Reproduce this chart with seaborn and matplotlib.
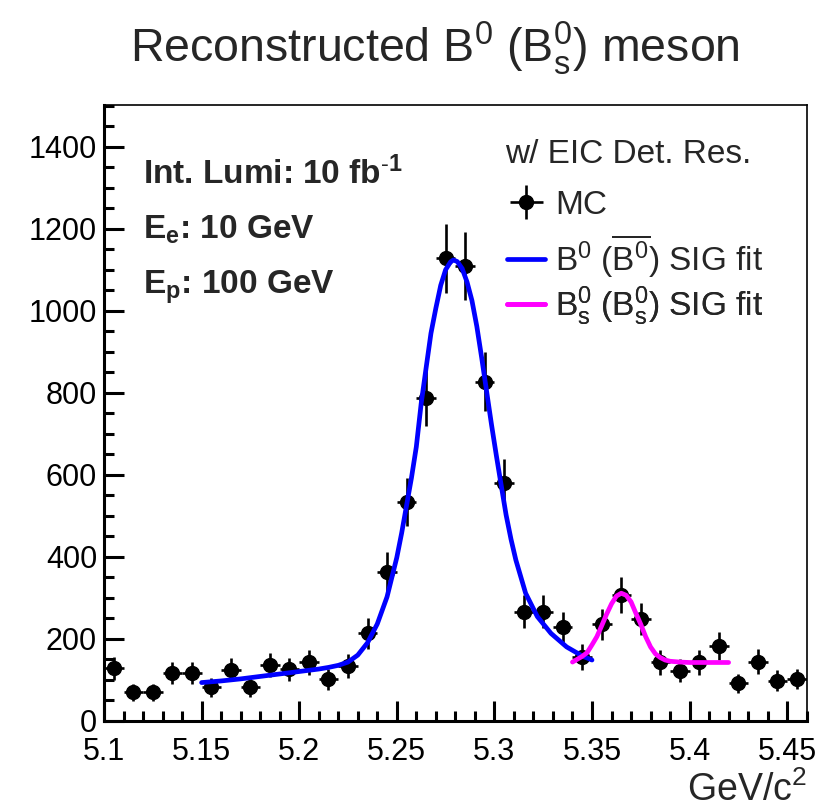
import matplotlib
matplotlib.use("Agg")
import matplotlib.pyplot as plt
import seaborn as sns
import pandas as pd
from matplotlib.ticker import MultipleLocator, FormatStrFormatter

# ---- data ----
bin_centers = [5.105, 5.115, 5.125, 5.135, 5.145, 5.155, 5.165, 5.175, 5.185, 5.195,
               5.205, 5.215, 5.225, 5.235, 5.245, 5.255, 5.265, 5.275, 5.285, 5.295,
               5.305, 5.315, 5.325, 5.335, 5.345, 5.355, 5.365, 5.375, 5.385, 5.395,
               5.405, 5.415, 5.425, 5.435, 5.445, 5.455]
counts = [128, 69, 69, 116, 116, 81, 124, 81, 136, 125,
          142, 101, 134, 213, 363, 533, 788, 1128, 1110, 827,
          579, 266, 266, 228, 155, 235, 307, 248, 142, 122,
          142, 183, 91, 144, 98, 102]
errors = [28, 21, 21, 27, 27, 23, 28, 23, 29, 28,
          30, 25, 29, 37, 48, 58, 70, 84, 83, 72,
          60, 41, 41, 38, 31, 38, 44, 39, 30, 28,
          30, 34, 24, 30, 25, 25]
bin_half_width = 0.005

b0_fit_x = [5.150, 5.160, 5.170, 5.180, 5.190, 5.200, 5.210, 5.215, 5.220, 5.225,
            5.230, 5.235, 5.240, 5.245, 5.250, 5.2525, 5.255, 5.2575, 5.260, 5.2625,
            5.265, 5.2675, 5.270, 5.2725, 5.275, 5.2775, 5.279, 5.281, 5.2835, 5.286,
            5.2885, 5.291, 5.2935, 5.296, 5.2985, 5.301, 5.3035, 5.306, 5.3085, 5.311,
            5.316, 5.322, 5.329, 5.337, 5.345, 5.350]
b0_fit_y = [93, 97, 102, 108, 114, 120, 126, 130, 135, 143,
            160, 190, 236, 302, 398, 458, 525, 592, 668, 774,
            860, 945, 1006, 1062, 1100, 1119, 1124, 1120, 1103, 1070,
            1025, 962, 885, 804, 723, 647, 574, 502, 443, 392,
            311, 254, 213, 180, 158, 148]

bs_fit_x = [5.340, 5.3425, 5.345, 5.3475, 5.350, 5.3525, 5.355, 5.3575, 5.360, 5.3625,
            5.365, 5.3675, 5.370, 5.3725, 5.375, 5.3775, 5.380, 5.3825, 5.385, 5.3875,
            5.390, 5.395, 5.400, 5.410, 5.420]
bs_fit_y = [143, 150, 157, 166, 185, 205, 232, 260, 285, 304,
            311, 306, 290, 262, 235, 205, 180, 163, 154, 148,
            145, 143, 142, 142, 142]

title_text = r"Reconstructed B$^{0}$ (B$^{0}_{s}$) meson"
x_label = r"GeV/c$^{2}$"
legend_title = "w/ EIC Det. Res."
legend_labels = ["MC",
                 r"B$^{0}$ ($\overline{\mathrm{B}^{0}}$) SIG fit",
                 r"B$^{0}_{s}$ (B$^{0}_{s}$) SIG fit"]
info_lines = [r"Int. Lumi: 10 fb$^{\mathbf{\text{-}1}}$",
              r"E$_{\mathbf{e}}$: 10 GeV",
              r"E$_{\mathbf{p}}$: 100 GeV"]

# ---- style ----
sns.set_theme(style="ticks")
plt.rcParams['font.family'] = ['Liberation Sans', 'DejaVu Sans']
plt.rcParams['mathtext.fontset'] = 'custom'
plt.rcParams['mathtext.rm'] = 'Liberation Sans'
plt.rcParams['mathtext.it'] = 'Liberation Sans:italic'
plt.rcParams['mathtext.bf'] = 'Liberation Sans:bold'
plt.rcParams['mathtext.default'] = 'regular'

W, H = 834, 808
fig = plt.figure(figsize=(W / 100, H / 100), dpi=100)
L, R, T, B = 104, 806.7, 105, 720.7
ax = fig.add_axes([L / W, 1 - B / H, (R - L) / W, (B - T) / H])

df_pts = pd.DataFrame({"x": bin_centers, "y": counts, "err": errors})
eb = ax.errorbar(df_pts["x"], df_pts["y"], yerr=df_pts["err"], xerr=bin_half_width,
                 fmt='o', color='black', ms=10, elinewidth=1.9, capsize=0, zorder=3)

df_b0 = pd.DataFrame({"x": b0_fit_x, "y": b0_fit_y})
df_bs = pd.DataFrame({"x": bs_fit_x, "y": bs_fit_y})
sns.lineplot(data=df_b0, x="x", y="y", color="#0000ff", lw=3.4, ax=ax, zorder=4)
sns.lineplot(data=df_bs, x="x", y="y", color="#ff00ff", lw=3.4, ax=ax, zorder=5)
line_b0 = ax.lines[-2]
line_bs = ax.lines[-1]

ax.set_xlim(5.1, 5.46)
ax.set_ylim(0, 1502)
ax.set_xlabel("")
ax.set_ylabel("")

ax.xaxis.set_major_locator(MultipleLocator(0.05))
ax.xaxis.set_minor_locator(MultipleLocator(0.01))
ax.yaxis.set_major_locator(MultipleLocator(200))
ax.yaxis.set_minor_locator(MultipleLocator(50))
ax.xaxis.set_major_formatter(FormatStrFormatter('%g'))
ax.yaxis.set_major_formatter(FormatStrFormatter('%g'))

ax.tick_params(which='both', direction='in', top=False, right=False, width=2.2,
               colors='black', labelsize=22)
ax.tick_params(which='major', length=14.5)
ax.tick_params(which='minor', length=7.2)
ax.tick_params(axis='x', which='major', pad=11.5)
ax.tick_params(axis='y', which='major', pad=5)

for side in ['left', 'bottom']:
    ax.spines[side].set_linewidth(2.2)
    ax.spines[side].set_color('black')
for side in ['top', 'right']:
    ax.spines[side].set_visible(True)
    ax.spines[side].set_linewidth(1.2)
    ax.spines[side].set_color('black')

# title and axis label
fig.text(435 / W, 1 - 62 / H, title_text, ha='center', va='baseline', fontsize=33.5)
fig.text(807 / W, 1 - 801 / H, x_label, ha='right', va='baseline', fontsize=27)

# info text
for i, t in enumerate(info_lines):
    fig.text(143 / W, 1 - (184 + 55 * i) / H, t, ha='left', va='baseline',
             fontsize=24, fontweight='bold')

# legend title and entries (one legend per entry for exact spacing)
fig.text(505 / W, 1 - 163 / H, legend_title, ha='left', va='baseline', fontsize=24)
entry_y = [205, 256, 306]
for handle, label, yy in zip([eb, line_b0, line_bs], legend_labels, entry_y):
    lg = ax.legend([handle], [label], loc='center left',
                   bbox_to_anchor=(507 / W, 1 - yy / H),
                   bbox_transform=fig.transFigure, frameon=False, fontsize=24,
                   handlelength=1.15, handletextpad=0.3, borderpad=0,
                   borderaxespad=0)
    ax.add_artist(lg)

fig.savefig("out.png", dpi=100)
